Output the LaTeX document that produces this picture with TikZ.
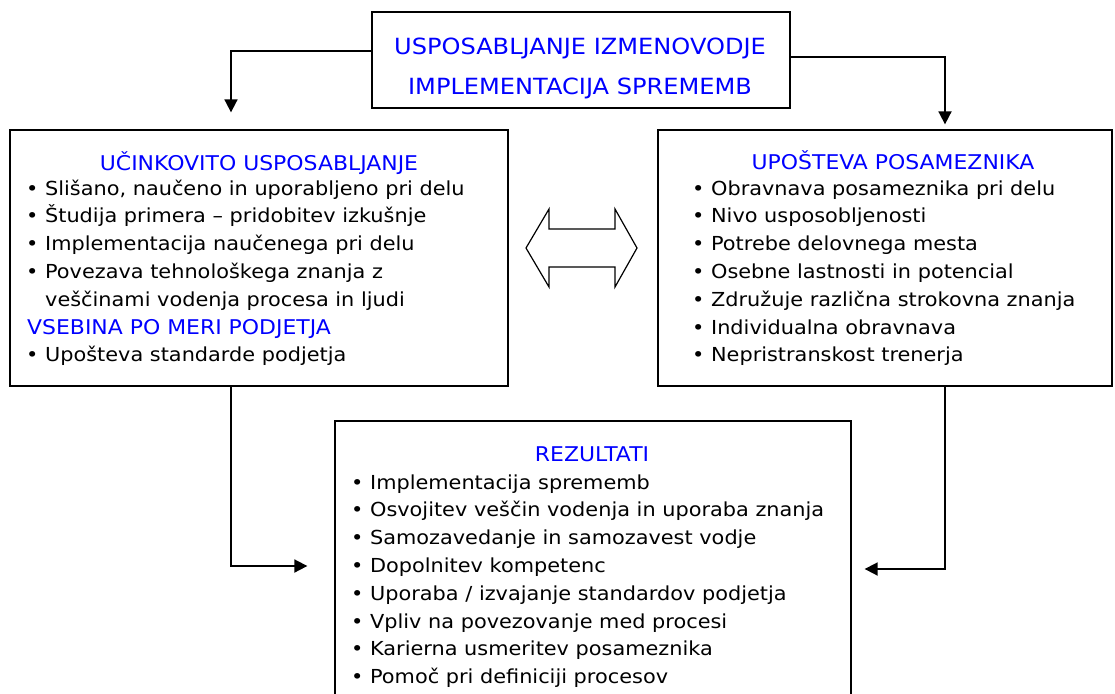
\documentclass[tikz,border=0pt]{standalone}
\usepackage{fontspec}
\setmainfont{DejaVu Sans}[FakeStretch=1.08]
\usepackage{xcolor}
\usepackage{tikz}
\usetikzlibrary{arrows.meta,positioning,calc}
\definecolor{headblue}{HTML}{0000FF}
\definecolor{framegray}{HTML}{000000}
\tikzset{
    box/.style={draw=framegray, line width=1.3pt, fill=white},
    head/.style={text=headblue, font=\fontsize{20.3}{24}\selectfont, anchor=base, inner sep=0pt},
    item/.style={text=black, font=\fontsize{19.3}{24}\selectfont, anchor=base west, inner sep=0pt},
    link/.style={line width=1.8pt, -{Triangle[length=13pt,width=13pt]}}
}

\begin{document}
\begin{tikzpicture}[x=1pt,y=-1pt]
    \useasboundingbox (0,0) rectangle (1115,693);
    % frames
    \node[box, minimum width=418pt, minimum height=96pt] (top) at (581,60) {};
    \node[box, minimum width=498pt, minimum height=256pt] (learn) at (259,258) {};
    \node[box, minimum width=454pt, minimum height=256pt] (person) at (885,258) {};
    \node[box, minimum width=516pt, minimum height=290pt] (result) at (593,566) {};
    % top
    \node[head, font=\fontsize{22.3}{24}\selectfont] (topA) at (580,55) {USPOSABLJANJE IZMENOVODJE};
    \node[head, font=\fontsize{22.3}{24}\selectfont] (topB) at (580,94) {IMPLEMENTACIJA SPREMEMB};
    % left
    \node[head] (learnH) at (259,170) {UČINKOVITO USPOSABLJANJE};
    \node[item] (learnA) at (26,195) {• Slišano, naučeno in uporabljeno pri delu};
    \node[item] (learnB) at (26,222.8) {• Študija primera – pridobitev izkušnje};
    \node[item] (learnC) at (26,250.6) {• Implementacija naučenega pri delu};
    \node[item] (learnD) at (26,278.4) {• Povezava tehnološkega znanja z};
    \node[item] (learnE) at (45,306.2) {veščinami vodenja procesa in ljudi};
    \node[head, anchor=base west] (learnS) at (27,334) {VSEBINA PO MERI PODJETJA};
    \node[item] (learnF) at (26,361.8) {• Upošteva standarde podjetja};
    % right
    \node[head] (personH) at (893,169) {UPOŠTEVA POSAMEZNIKA};
    \node[item] (personA) at (692,195) {• Obravnava posameznika pri delu};
    \node[item] (personB) at (692,222.8) {• Nivo usposobljenosti};
    \node[item] (personC) at (692,250.6) {• Potrebe delovnega mesta};
    \node[item] (personD) at (692,278.4) {• Osebne lastnosti in potencial};
    \node[item] (personE) at (692,306.2) {• Združuje različna strokovna znanja};
    \node[item] (personF) at (692,334) {• Individualna obravnava};
    \node[item] (personG) at (692,361.8) {• Nepristranskost trenerja};
    % bottom
    \node[head] (resultH) at (592,461) {REZULTATI};
    \node[item] (resultA) at (351,489) {• Implementacija sprememb};
    \node[item] (resultB) at (351,516.8) {• Osvojitev veščin vodenja in uporaba znanja};
    \node[item] (resultC) at (351,544.6) {• Samozavedanje in samozavest vodje};
    \node[item] (resultD) at (351,572.4) {• Dopolnitev kompetenc};
    \node[item] (resultE) at (351,600.2) {• Uporaba / izvajanje standardov podjetja};
    \node[item] (resultF) at (351,628) {• Vpliv na povezovanje med procesi};
    \node[item] (resultG) at (351,655.8) {• Karierna usmeritev posameznika};
    \node[item] (resultH2) at (351,683.6) {• Pomoč pri definiciji procesov};
    % double arrow
    \draw[line width=1.2pt, line join=miter] (526,248) -- (549,209) -- (549,229) -- (615,229) -- (615,209)
        -- (637,248) -- (615,287) -- (615,267) -- (549,267) -- (549,287) -- cycle;
    % links
    \draw[link, shorten >=17pt] ([yshift=9pt]top.west) -| ([xshift=-28pt]learn.north);
    \draw[link, shorten >=5pt] ([yshift=3pt]top.east) -| ([xshift=60pt]person.north);
    \draw[link, shorten >=27pt] ([xshift=-28pt]learn.south) |- (result.west);
    \draw[link, shorten >=13pt] ([xshift=60pt]person.south) |- ([yshift=-3pt]result.east);
\end{tikzpicture}
\end{document}
